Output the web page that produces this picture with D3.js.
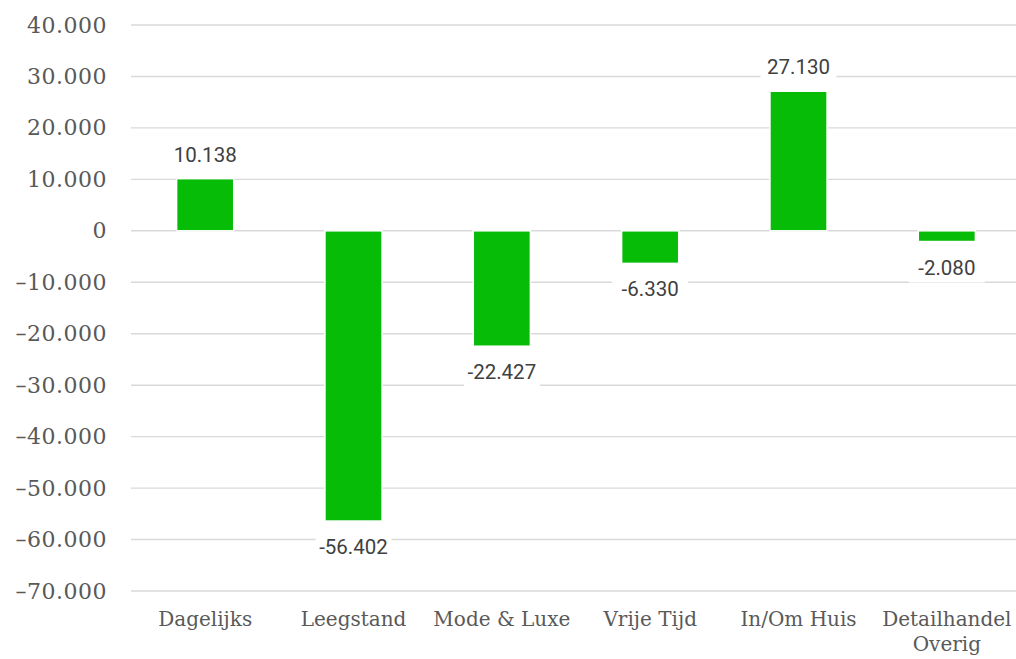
<!DOCTYPE html>
<html>
<head>
<meta charset="utf-8">
<script src="https://cdn.jsdelivr.net/npm/d3@7"></script>
<style>
  html, body { margin: 0; padding: 0; background: #fff; }
  svg { display: block; }
</style>
</head>
<body>
<svg id="chart" width="1016" height="659"></svg>
<script>
// Mutatie per branche (m²)
const categories = ["Dagelijks", "Leegstand", "Mode & Luxe", "Vrije Tijd", "In/Om Huis", "Detailhandel Overig"];
const values = [10138, -56402, -22427, -6330, 27130, -2080];
const tickValues = [40000, 30000, 20000, 10000, 0, -10000, -20000, -30000, -40000, -50000, -60000, -70000];

const fmt = v => {
  const s = d3.format(",")(Math.abs(v)).replace(/,/g, ".");
  return (v < 0 ? "-" : "") + s;
};
const tickFmt = v => {
  const s = d3.format(",")(Math.abs(v)).replace(/,/g, ".");
  return (v < 0 ? "\u2013" : "") + s;
};

const svg = d3.select("#chart");
const plotLeft = 131, plotRight = 1021, plotTop = 25, plotBottom = 591;

const x = d3.scaleBand().domain(categories).range([plotLeft, plotRight]).paddingInner(0.615).paddingOuter(0.3075);
const y = d3.scaleLinear().domain([-70000, 40000]).range([plotBottom, plotTop]);

// gridlines
svg.append("g").selectAll("line").data(tickValues).join("line")
  .attr("x1", plotLeft).attr("x2", plotRight)
  .attr("y1", d => y(d)).attr("y2", d => y(d))
  .attr("stroke", "#d9d9d9").attr("stroke-width", 1.4);

// y tick labels
const yAxis = d3.axisLeft(y).tickValues(tickValues).tickFormat(tickFmt).tickSize(0).tickPadding(0);
const ya = svg.append("g").attr("transform", "translate(107,0)").call(yAxis);
ya.select(".domain").remove();
ya.selectAll("text")
  .attr("font-family", "'DejaVu Serif', serif")
  .attr("font-size", 22)
  .attr("letter-spacing", 0.5)
  .attr("fill", "#595959");

// bars
svg.append("g").selectAll("rect").data(values).join("rect")
  .attr("x", (d, i) => x(categories[i]))
  .attr("width", x.bandwidth())
  .attr("y", d => y(Math.max(0, d)))
  .attr("height", d => Math.abs(y(d) - y(0)))
  .attr("fill", "#07bc07")
  .attr("stroke", "#fff").attr("stroke-width", 1.5);

// value labels with white backing
const lg = svg.append("g").selectAll("g").data(values).join("g")
  .attr("transform", (d, i) => {
    const cx = x(categories[i]) + x.bandwidth() / 2;
    const by = d >= 0 ? y(d) - 17 : y(d) + 33;
    return `translate(${cx},${by})`;
  });
lg.append("rect")
  .attr("x", -38).attr("width", 76)
  .attr("y", -24).attr("height", 32)
  .attr("fill", "#fff");
lg.append("text")
  .attr("text-anchor", "middle")
  .attr("font-family", "Roboto, sans-serif")
  .attr("font-size", 20.5)
  .attr("fill", "#404040")
  .text(d => fmt(d));

// category labels
const xAxis = d3.axisBottom(x).tickSize(0).tickPadding(0);
const xa = svg.append("g").call(xAxis);
xa.select(".domain").remove();
xa.selectAll("text").each(function(d) {
  const t = d3.select(this);
  t.text(null).attr("y", 0).attr("dy", null)
    .attr("font-family", "'DejaVu Serif', serif")
    .attr("font-size", 20)
    .attr("fill", "#595959");
  const words = d === "Detailhandel Overig" ? ["Detailhandel", "Overig"] : [d];
  words.forEach((w, k) => {
    t.append("tspan").attr("x", 0).attr("y", 626 + k * 25).text(w);
  });
});
</script>
</body>
</html>
